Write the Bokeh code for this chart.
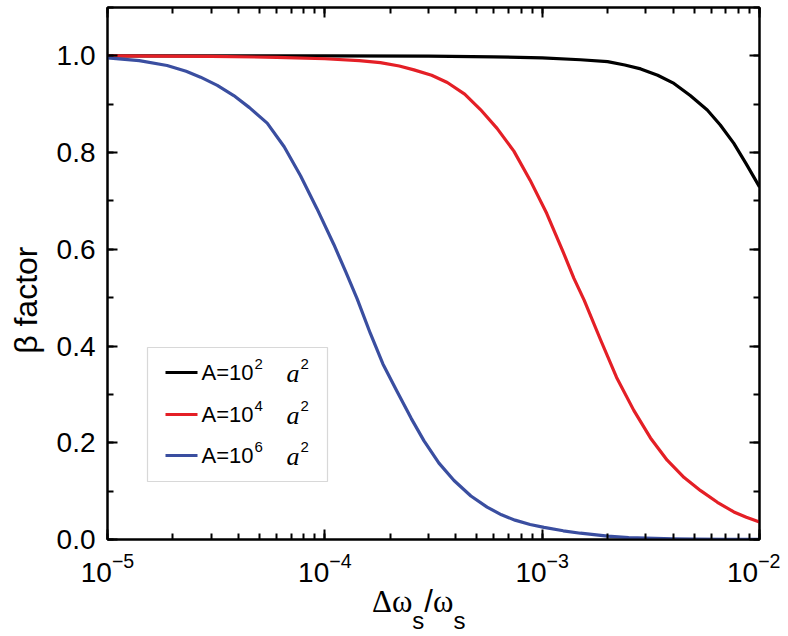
from bokeh.plotting import figure
from bokeh.models import (LogAxis, LinearAxis, Range1d, Label, BoxAnnotation, Arrow,
                          SingleIntervalTicker, LogTicker, PrintfTickFormatter,
                          CustomJSTickFormatter, Div)
from bokeh.layouts import column
from bokeh.embed import file_html
from bokeh.resources import INLINE

# ---- data ----
black_x = [1.0e-5, 1.0e-4, 3.0e-4, 6.0e-4, 1.0e-3, 1.5e-3, 2.0e-3, 2.4e-3, 2.84e-3, 3.4e-3,
           4.04e-3, 4.8e-3, 5.75e-3, 6.6e-3, 7.62e-3, 8.7e-3, 1.0e-2]
black_y = [1.000, 1.000, 0.9995, 0.998, 0.996, 0.992, 0.988, 0.981, 0.973, 0.960,
           0.943, 0.918, 0.888, 0.857, 0.819, 0.776, 0.729]

red_x = [1.0e-5, 3.0e-5, 6.0e-5, 1.0e-4, 1.44e-4, 1.80e-4, 2.2e-4, 2.57e-4, 3.1e-4, 3.66e-4,
         4.4e-4, 5.20e-4, 6.2e-4, 7.41e-4, 8.8e-4, 1.05e-3, 1.24e-3, 1.4e-3, 1.56e-3, 1.86e-3,
         2.2e-3, 2.64e-3, 3.15e-3, 3.76e-3, 4.5e-3, 5.36e-3, 6.4e-3, 7.62e-3, 8.7e-3, 1.0e-2]
red_y = [1.000, 0.999, 0.997, 0.994, 0.990, 0.986, 0.979, 0.971, 0.960, 0.945,
         0.921, 0.889, 0.850, 0.803, 0.743, 0.674, 0.598, 0.540, 0.495, 0.412,
         0.335, 0.267, 0.210, 0.164, 0.128, 0.101, 0.077, 0.057, 0.046, 0.036]

blue_x = [1.0e-5, 1.4e-5, 1.88e-5, 2.3e-5, 2.68e-5, 3.2e-5, 3.81e-5, 4.5e-5, 5.43e-5, 6.5e-5,
          7.73e-5, 9.2e-5, 1.10e-4, 1.25e-4, 1.41e-4, 1.62e-4, 1.85e-4, 2.15e-4, 2.5e-4, 2.86e-4,
          3.35e-4, 3.93e-4, 4.7e-4, 5.58e-4, 6.5e-4, 7.5e-4, 8.8e-4, 1.02e-3, 1.25e-3, 1.5e-3,
          2.0e-3, 2.5e-3, 3.0e-3, 4.0e-3, 5.0e-3, 7.0e-3, 1.0e-2]
blue_y = [0.996, 0.990, 0.980, 0.968, 0.956, 0.939, 0.918, 0.893, 0.861, 0.812,
          0.752, 0.684, 0.610, 0.553, 0.497, 0.426, 0.363, 0.306, 0.250, 0.204,
          0.158, 0.122, 0.090, 0.067, 0.051, 0.040, 0.031, 0.025, 0.018, 0.013,
          0.007, 0.004, 0.003, 0.0015, 0.001, 0.0005, 0.0003]

series_colors = ["#000000", "#e41f26", "#3a4ea0"]
legend_exp = ["2", "4", "6"]

X_RANGE = (1e-5, 1e-2)
Y_RANGE = (0.0, 1.1)

# ---- frame geometry (page pixels) ----
FRAME_L, FRAME_B = 107, 539

def sx(px):
    return px - FRAME_L

def sy(py):
    return FRAME_B - py

p = figure(width=780, height=590, x_axis_type="log",
           x_range=Range1d(*X_RANGE), y_range=Range1d(*Y_RANGE),
           output_backend="svg", toolbar_location=None,
           min_border_left=107, min_border_right=21, min_border_top=7, min_border_bottom=51)
p.grid.visible = False
p.outline_line_color = "black"
p.outline_line_width = 2
p.background_fill_color = "white"
p.border_fill_color = "white"

for xs, ys, c in zip([black_x, red_x, blue_x], [black_y, red_y, blue_y], series_colors):
    p.line(xs, ys, line_color=c, line_width=3.2, line_join="round")

blank = CustomJSTickFormatter(code="return ''")

def style_axis(ax, show_labels):
    ax.axis_line_width = 2
    ax.major_tick_line_width = 2
    ax.minor_tick_line_width = 2
    ax.major_tick_in = 10
    ax.major_tick_out = 0
    ax.minor_tick_in = 6
    ax.minor_tick_out = 0
    ax.axis_line_color = "black"
    ax.major_tick_line_color = "black"
    ax.minor_tick_line_color = "black"
    if show_labels:
        ax.major_label_text_font = "Liberation Sans"
        ax.major_label_text_font_size = "28px"
        ax.major_label_text_color = "black"
    else:
        ax.formatter = blank
        ax.major_label_standoff = 0

xa = p.xaxis[0]
xa.ticker = LogTicker(num_minor_ticks=10)
style_axis(xa, True)
xa.major_label_standoff = 13

ya = p.yaxis[0]
ya.ticker = SingleIntervalTicker(interval=0.2, num_minor_ticks=2)
ya.formatter = PrintfTickFormatter(format="%.1f")
style_axis(ya, True)
ya.major_label_standoff = 12
# trailing no-break spaces move the visible label a little below the frame centre
ya.axis_label = "β factor" + "\u00a0" * 6
ya.axis_label_text_font = "Liberation Sans"
ya.axis_label_text_font_size = "32px"
ya.axis_label_text_font_style = "normal"
ya.axis_label_text_color = "black"
ya.axis_label_standoff = 10

top = LogAxis(ticker=LogTicker(num_minor_ticks=10))
style_axis(top, False)
p.add_layout(top, "above")
right = LinearAxis(ticker=SingleIntervalTicker(interval=0.2, num_minor_ticks=2))
style_axis(right, False)
p.add_layout(right, "right")

# ---- legend ----
p.add_layout(BoxAnnotation(left=sx(147), right=sx(327), top=sy(347), bottom=sy(481),
                           left_units="screen", right_units="screen",
                           top_units="screen", bottom_units="screen",
                           fill_color="white", fill_alpha=1.0,
                           line_color="#7f7f7f", line_width=1.2))
rows_y = [372, 414, 455]
for ry, c, e in zip(rows_y, series_colors, legend_exp):
    p.add_layout(Arrow(end=None, x_start=sx(165), y_start=sy(ry), x_end=sx(197), y_end=sy(ry),
                       start_units="screen", end_units="screen", line_color=c, line_width=3))
    p.add_layout(Label(x=sx(201), y=sy(ry), x_units="screen", y_units="screen", text="A=10",
                       text_font="Liberation Sans", text_font_size="22px",
                       text_baseline="middle", text_align="left", text_color="black"))
    p.add_layout(Label(x=sx(254), y=sy(ry - 9), x_units="screen", y_units="screen", text=e,
                       text_font="Liberation Sans", text_font_size="15px",
                       text_baseline="middle", text_align="left", text_color="black"))
    p.add_layout(Label(x=sx(286), y=sy(ry + 1), x_units="screen", y_units="screen", text="a",
                       text_font="Liberation Serif", text_font_size="26px", text_font_style="italic",
                       text_baseline="middle", text_align="left", text_color="black"))
    p.add_layout(Label(x=sx(300), y=sy(ry - 9), x_units="screen", y_units="screen", text="2",
                       text_font="Liberation Sans", text_font_size="15px",
                       text_baseline="middle", text_align="left", text_color="black"))

# ---- x axis label (with subscripts) ----
sub = '<span style="font-family:\'Liberation Sans\';font-size:24px;position:relative;top:17px;">s</span>'
xlabel = Div(
    text=('<span style="font-family:\'Liberation Serif\';">&Delta;&omega;</span>' + sub +
          '<span style="font-family:\'Liberation Sans\';">/</span>'
          '<span style="font-family:\'Liberation Serif\';">&omega;</span>' + sub),
    width=780, height=46,
    styles={"font-size": "31px", "line-height": "24px", "color": "black",
            "padding-left": "372px", "padding-top": "0px", "white-space": "nowrap",
            "margin": "0"})

layout = column(p, xlabel, spacing=0)
open("out.html", "w").write(file_html(layout, INLINE))
